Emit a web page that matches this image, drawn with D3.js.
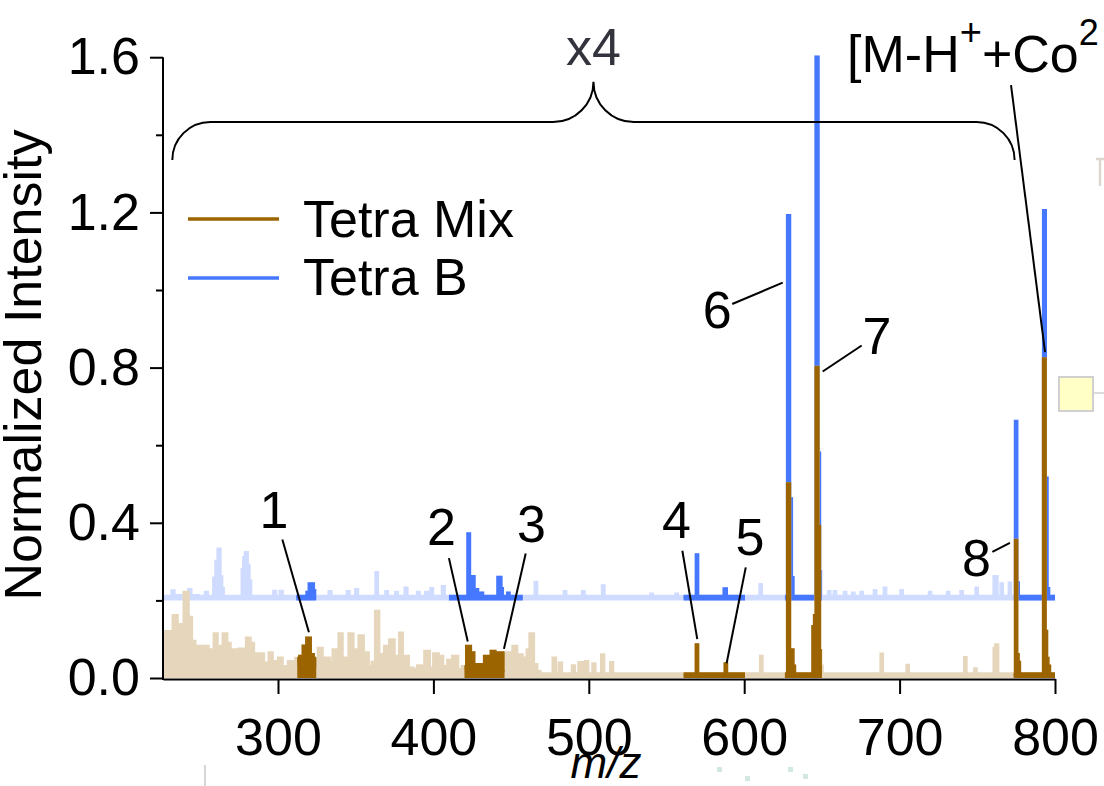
<!DOCTYPE html>
<html><head><meta charset="utf-8">
<script src="https://cdn.jsdelivr.net/npm/d3@7"></script>
<style>
html,body{margin:0;padding:0;background:#fff;}
svg{display:block;font-family:"Liberation Sans",Arial,Helvetica,sans-serif;}
</style></head><body>
<svg id="chart" width="1104" height="786"></svg>
<script>
// ---------------- data ----------------
const xTicks = [300, 400, 500, 600, 700, 800];
const yTicks = [0, 0.4, 0.8, 1.2, 1.6];
const yMinorTicks = [0.2, 0.6, 1.0, 1.4];
const seriesNames = ["Tetra Mix", "Tetra B"];
const tetraBOffset = 0.2;   // Tetra B trace is stacked 0.2 above Tetra Mix

// Tetra Mix profile (m/z, normalized intensity)
const mixMz = [226.3,229.4,231.6,233.7,236.3,238.4,241.0,243.2,245.3,247.5,249.6,251.7,253.9,256.0,258.2,259.9,261.6,263.8,265.9,268.0,
  270.2,271.9,273.6,276.6,278.8,280.9,283.1,285.2,287.3,289.5,291.6,293.8,295.1,297.2,299.4,301.5,303.6,305.8,307.9,310.1,
  313.0,315.2,317.4,319.8,321.6,323.6,325.3,327.0,329.6,331.7,334.5,336.7,338.5,340.3,342.0,343.1,344.8,346.8,349.5,351.3,
  353.2,356.4,359.6,361.8,363.9,365.6,367.1,370.4,373.4,375.9,377.6,379.1,380.8,382.2,385.4,388.4,391.4,393.5,395.7,398.9,
  401.7,404.3,407.5,411.1,413.9,417.1,420.3,422.7,424.8,427.0,429.3,431.5,434.5,436.0,438.6,440.3,442.0,444.8,446.5,448.2,
  450.3,452.3,454.7,456.2,457.9,459.6,461.3,463.2,465.4,467.5,469.5,476.5,477.8,479.2,480.5,481.7,483.0,489.0,490.1,491.3,
  493.2,494.3,495.4,496.5,497.5,498.6,499.8,502.2,503.3,504.4,507.8,508.9,510.0,513.6,514.7,515.8,568.9,569.6,570.3,587.5,
  588.2,588.9,610.3,611.0,611.7,627.6,628.4,629.8,630.8,631.8,632.8,643.8,644.8,645.9,646.8,648.0,648.8,649.6,650.5,687.8,
  688.5,689.2,704.5,705.2,705.9,741.6,742.3,743.0,748.1,748.8,749.5,760.5,761.3,762.5,763.6,774.2,774.8,775.8,776.6,777.5,
  792.3,793.1,794.1,794.9,795.8,797.0,800.0];
const mixInt = [0.030,0.119,0.038,0.160,0.055,0.137,0.220,0.156,0.094,0.070,0.081,0.079,0.081,0.072,0.068,0.113,0.081,0.068,0.113,0.089,
  0.064,0.072,0.038,0.074,0.055,0.102,0.089,0.062,0.038,0.062,0.029,0.038,0.064,0.042,0.029,0.051,0.021,0.029,0.042,0.038,
  0.050,0.055,0.082,0.102,0.060,0.030,0.050,0.076,0.042,0.051,0.038,0.072,0.030,0.113,0.040,0.051,0.030,0.113,0.072,0.035,
  0.108,0.064,0.029,0.040,0.171,0.060,0.059,0.081,0.098,0.055,0.035,0.115,0.040,0.055,0.025,0.021,0.031,0.020,0.068,0.025,
  0.062,0.055,0.029,0.045,0.055,0.021,0.029,0.081,0.064,0.034,0.012,0.034,0.055,0.042,0.068,0.051,0.064,0.064,0.020,0.064,
  0.020,0.081,0.038,0.059,0.020,0.051,0.072,0.113,0.034,0.016,0.010,0.010,0.051,0.010,0.010,0.038,0.010,0.010,0.031,0.010,
  0.010,0.039,0.020,0.039,0.025,0.042,0.010,0.010,0.036,0.010,0.010,0.059,0.010,0.010,0.039,0.010,0.010,0.085,0.010,0.010,
  0.036,0.010,0.010,0.055,0.010,0.010,0.500,0.072,0.072,0.030,0.010,0.010,0.132,0.160,0.800,0.390,0.070,0.030,0.010,0.010,
  0.061,0.010,0.010,0.032,0.010,0.010,0.052,0.010,0.010,0.023,0.010,0.010,0.075,0.085,0.010,0.010,0.354,0.060,0.040,0.010,
  0.010,0.822,0.120,0.050,0.030,0.010,0.010];

// Tetra B profile (m/z, normalized intensity before the 0.2 offset)
const bMz = [226.3,231.5,232.4,233.5,236.0,242.0,243.2,244.5,252.8,253.9,255.0,258.3,259.2,261.0,262.0,263.2,264.2,265.2,276.6,277.5,
  278.6,279.6,280.7,281.8,282.8,296.9,297.9,298.9,301.1,302.1,303.1,318.0,319.5,320.9,322.2,323.2,324.3,332.5,333.5,334.5,
  344.2,345.2,346.2,349.6,350.6,351.6,362.8,363.5,364.3,369.0,369.9,370.8,375.4,376.3,377.2,381.4,382.4,383.4,389.4,390.3,
  391.2,394.7,395.6,396.5,398.0,398.9,399.8,405.4,406.4,407.4,421.9,422.7,423.6,425.5,426.6,427.8,428.9,431.1,432.0,441.2,
  442.0,442.9,443.8,444.8,447.6,448.2,449.0,465.2,466.0,466.8,483.9,484.7,485.5,495.7,496.5,497.3,508.5,509.3,510.1,539.6,
  540.4,541.2,555.7,556.5,557.3,569.0,569.6,570.3,586.6,587.8,589.0,609.9,610.6,611.3,627.6,628.4,629.8,630.8,631.8,645.9,
  646.8,648.0,648.8,649.8,654.0,654.7,655.4,657.7,658.4,659.1,664.2,664.9,665.6,669.5,670.2,670.9,674.9,675.6,676.3,683.5,
  684.2,684.9,689.9,690.6,691.3,700.6,701.3,702.0,718.9,719.6,720.3,730.6,731.3,732.0,739.2,739.9,740.6,748.9,749.6,750.3,
  760.5,761.3,762.2,763.0,765.0,765.7,766.4,770.3,771.0,771.7,774.2,774.8,775.8,776.8,792.4,793.1,794.3,795.3,796.3,800.0];
const bInt = [0.010,0.010,0.024,0.010,0.012,0.010,0.027,0.012,0.010,0.020,0.010,0.010,0.057,0.100,0.132,0.060,0.030,0.010,0.010,0.078,
  0.110,0.123,0.090,0.050,0.010,0.010,0.023,0.010,0.010,0.023,0.010,0.010,0.020,0.042,0.042,0.025,0.010,0.010,0.022,0.010,
  0.010,0.022,0.010,0.010,0.027,0.010,0.010,0.071,0.010,0.010,0.022,0.010,0.010,0.020,0.010,0.010,0.031,0.010,0.010,0.020,
  0.010,0.010,0.020,0.010,0.010,0.030,0.010,0.010,0.035,0.010,0.010,0.171,0.061,0.061,0.027,0.027,0.012,0.018,0.010,0.010,
  0.059,0.059,0.030,0.010,0.010,0.018,0.010,0.010,0.046,0.010,0.010,0.022,0.010,0.010,0.022,0.010,0.010,0.037,0.010,0.010,
  0.016,0.010,0.010,0.016,0.010,0.010,0.117,0.010,0.010,0.029,0.010,0.010,0.040,0.010,0.010,0.991,0.261,0.058,0.010,0.010,
  1.400,0.379,0.074,0.010,0.010,0.022,0.010,0.010,0.022,0.010,0.010,0.020,0.010,0.010,0.018,0.010,0.010,0.020,0.010,0.010,
  0.025,0.010,0.010,0.031,0.010,0.010,0.025,0.010,0.010,0.020,0.010,0.010,0.020,0.010,0.010,0.022,0.010,0.010,0.031,0.010,
  0.010,0.061,0.061,0.010,0.010,0.042,0.010,0.010,0.044,0.010,0.010,0.461,0.045,0.010,0.010,1.004,0.315,0.030,0.010,0.010];

// m/z windows shown at full colour (the rest of each trace is faded)
const mixWindows = [[312.4, 324.6], [420.0, 445.8], [561.0, 600.5], [626.2, 650.0], [773.4, 800.0]];
const bWindows   = [[311.8, 324.6], [410.0, 457.5], [561.0, 600.5], [626.2, 650.0], [773.4, 800.0]];

// peak annotations: label anchor, leader start, leader end (m/z, intensity)
const peakLabels = ["1", "2", "3", "4", "5", "6", "7", "8"];
const labelAt    = [[297.4,0.387],[405.2,0.343],[463.1,0.351],[556.4,0.361],[603.7,0.317],[582.7,0.902],[685.5,0.835],[749.5,0.262]];
const leaderFrom = [[302.8,0.357],[410.0,0.309],[459.4,0.321],[560.2,0.328],[601.0,0.285],[592.3,0.964],[675.6,0.857],[759.7,0.325]];
const leaderTo   = [[319.9,0.118],[422.1,0.094],[445.4,0.075],[569.8,0.100],[588.7,0.038],[624.8,1.019],[650.5,0.790],[771.0,0.348]];

// ---------------- layout ----------------
const svg = d3.select("#chart");
svg.append("rect").attr("width", 1104).attr("height", 786).attr("fill", "#fff");

const x = d3.scaleLinear().domain([226, 800]).range([163, 1055]);
const y = d3.scaleLinear().domain([0, 1.6]).range([678, 57.2]);

const colors = {
  mix: "#9b6400", mixLight: "#e6d7bc",
  b: "#4677ff", bLight: "#d0dcff"
};
const FONT = 52;

const mixData = mixMz.map((m, i) => ({mz: m, v: mixInt[i]}));
const bData = bMz.map((m, i) => ({mz: m, v: bInt[i] + tetraBOffset}));

// clip paths for the full-colour windows
const defs = svg.append("defs");
function makeClip(id, windows) {
  const cp = defs.append("clipPath").attr("id", id);
  windows.forEach(w => cp.append("rect")
    .attr("x", x(w[0])).attr("y", 0)
    .attr("width", x(w[1]) - x(w[0])).attr("height", 786));
}
makeClip("clip-mix", mixWindows);
makeClip("clip-b", bWindows);

function drawTrace(data, base, light, dark, clipId) {
  const area = d3.area().curve(d3.curveStep)
    .x(d => x(d.mz)).y0(y(base)).y1(d => y(d.v));
  const line = d3.line().curve(d3.curveStep)
    .x(d => x(d.mz)).y(d => y(d.v));
  const g = svg.append("g");
  g.append("path").datum(data).attr("d", area).attr("fill", light);
  g.append("path").datum(data).attr("d", line).attr("fill", "none")
    .attr("stroke", light).attr("stroke-width", 3.6).attr("stroke-linejoin", "miter");
  const h = svg.append("g").attr("clip-path", `url(#${clipId})`);
  h.append("path").datum(data).attr("d", area).attr("fill", dark);
  h.append("path").datum(data).attr("d", line).attr("fill", "none")
    .attr("stroke", dark).attr("stroke-width", 3.6).attr("stroke-linejoin", "miter");
}
drawTrace(bData, tetraBOffset, colors.bLight, colors.b, "clip-b");
drawTrace(mixData, 0, colors.mixLight, colors.mix, "clip-mix");

// ---------------- axes ----------------
const yAxis = svg.append("g").attr("transform", `translate(${x(226)},0)`)
  .call(d3.axisLeft(y).tickValues(yTicks).tickFormat(d3.format(".1f"))
    .tickSize(13).tickSizeOuter(0).tickPadding(10));
svg.append("g").attr("transform", `translate(${x(226)},0)`)
  .call(d3.axisLeft(y).tickValues(yMinorTicks).tickFormat("")
    .tickSize(7).tickSizeOuter(0))
  .select(".domain").remove();
const xAxis = svg.append("g").attr("transform", `translate(0,${y(0) + 1})`)
  .call(d3.axisBottom(x).tickValues(xTicks).tickFormat(d3.format("d"))
    .tickSize(15).tickSizeOuter(0).tickPadding(24));
svg.selectAll(".domain").attr("stroke", "#000").attr("stroke-width", 2);
svg.selectAll(".tick line").attr("stroke", "#000").attr("stroke-width", 2);
svg.selectAll(".tick text").attr("font-size", FONT).attr("fill", "#000")
  .attr("font-family", "Liberation Sans, Arial, sans-serif");
// extend the y axis line down to meet the x axis
yAxis.select(".domain").attr("d", `M0,${y(1.6)}V${y(0) + 2}`);

svg.append("text")
  .attr("transform", `translate(41,${365}) rotate(-90)`)
  .attr("text-anchor", "middle").attr("font-size", FONT).attr("fill", "#000")
  .text("Normalized Intensity");

svg.append("text")
  .attr("x", 606).attr("y", 778).attr("text-anchor", "middle")
  .attr("font-size", 44).attr("font-style", "italic").attr("fill", "#000")
  .text("m/z");

// ---------------- legend ----------------
const legend = svg.append("g");
[[colors.mix, 219, seriesNames[0], 237], [colors.b, 278, seriesNames[1], 295]].forEach(([c, ly, name, ty]) => {
  legend.append("line").attr("x1", 188).attr("x2", 279).attr("y1", ly).attr("y2", ly)
    .attr("stroke", c).attr("stroke-width", 3.6);
  legend.append("text").attr("x", 303).attr("y", ty).attr("font-size", FONT)
    .attr("fill", "#000").text(name);
});

// ---------------- brace over the x4 region ----------------
const braceRange = [232, 774];
const braceLevels = [1.335, 1.433, 1.537];
(function () {
  const x0 = x(braceRange[0]), x1 = x(braceRange[1]);
  const yl = y(braceLevels[0]), ym = y(braceLevels[1]), yt = y(braceLevels[2]);
  const xm = (x0 + x1) / 2;
  const r = yl - ym, rt = ym - yt;
  const d = `M${x0},${yl} A${r},${r} 0 0 1 ${x0 + r},${ym} H${xm - rt}` +
            ` A${rt},${rt} 0 0 0 ${xm},${yt} A${rt},${rt} 0 0 0 ${xm + rt},${ym}` +
            ` H${x1 - r} A${r},${r} 0 0 1 ${x1},${yl}`;
  svg.append("path").attr("d", d).attr("fill", "none").attr("stroke", "#000").attr("stroke-width", 2);
  svg.append("text").attr("x", xm).attr("y", 65).attr("text-anchor", "middle")
    .attr("font-size", 52).attr("fill", "#33333d").text("x4");
})();

// ---------------- peak annotations ----------------
const ann = svg.append("g");
peakLabels.forEach((t, i) => {
  ann.append("line")
    .attr("x1", x(leaderFrom[i][0])).attr("y1", y(leaderFrom[i][1]))
    .attr("x2", x(leaderTo[i][0])).attr("y2", y(leaderTo[i][1]))
    .attr("stroke", "#000").attr("stroke-width", 2);
  ann.append("text").attr("x", x(labelAt[i][0])).attr("y", y(labelAt[i][1]))
    .attr("text-anchor", "middle").attr("font-size", FONT).attr("fill", "#000").text(t);
});

// molecular ion label
const ionAt = [666.2, 1.562], ionFrom = [771.7, 1.528], ionTo = [793.6, 0.840];
ann.append("line")
  .attr("x1", x(ionFrom[0])).attr("y1", y(ionFrom[1]))
  .attr("x2", x(ionTo[0])).attr("y2", y(ionTo[1]))
  .attr("stroke", "#000").attr("stroke-width", 2);
const ion = ann.append("text").attr("x", x(ionAt[0])).attr("y", y(ionAt[1]))
  .attr("font-size", FONT).attr("fill", "#000");
ion.append("tspan").text("[M-H");
ion.append("tspan").attr("font-size", 38).attr("dy", -27).text("+");
ion.append("tspan").attr("dy", 27).text("+Co");
ion.append("tspan").attr("font-size", 36).attr("dy", -27).text("2");

// fragments of the neighbouring panel at the page edges
const edge = svg.append("g");
edge.append("rect").attr("x", 1059).attr("y", 377).attr("width", 34).attr("height", 34)
  .attr("fill", "#ffffc6").attr("stroke", "#d0d0d0").attr("stroke-width", 2);
edge.append("line").attr("x1", 1093).attr("x2", 1104).attr("y1", 393).attr("y2", 393)
  .attr("stroke", "#d0d0d0").attr("stroke-width", 1.5);
edge.append("path").attr("d", "M1096,159H1104M1100,159V186").attr("stroke", "#ddd6ce").attr("stroke-width", 2.5).attr("fill", "none");
edge.append("line").attr("x1", 205).attr("x2", 205).attr("y1", 765).attr("y2", 786)
  .attr("stroke", "#c8c8c8").attr("stroke-width", 1.5);
[[717, 767], [745, 776], [788, 767], [803, 774]].forEach(([px, py]) =>
  edge.append("rect").attr("x", px).attr("y", py).attr("width", 5).attr("height", 5).attr("fill", "#d3e8df"));
</script>
</body></html>
